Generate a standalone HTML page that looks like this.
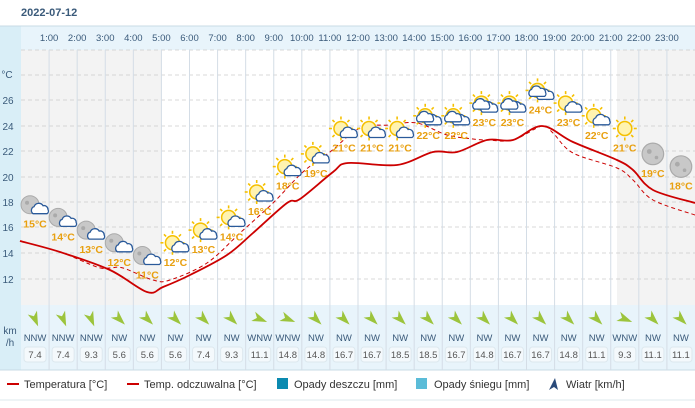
<!DOCTYPE html>
<html><head><meta charset="utf-8"><style>
body{margin:0;background:#fff;font-family:"Liberation Sans",sans-serif}
svg{display:block}
</style></head><body>
<svg width="695" height="408" xmlns="http://www.w3.org/2000/svg" font-family="Liberation Sans, sans-serif">
<defs>
<g id="moon"><circle r="9" fill="#c8c8c8" stroke="#aaa" stroke-width="1"/><circle cx="-3" cy="-2" r="2" fill="#aaa"/><circle cx="3" cy="3" r="1.5" fill="#aaa"/></g>
<g id="sun"><g stroke="#f5c000" stroke-width="1.6"><line x1="0" y1="-12" x2="0" y2="-9"/><line x1="0" y1="12" x2="0" y2="9"/><line x1="-12" y1="0" x2="-9" y2="0"/><line x1="12" y1="0" x2="9" y2="0"/><line x1="-8.5" y1="-8.5" x2="-6.4" y2="-6.4"/><line x1="8.5" y1="-8.5" x2="6.4" y2="-6.4"/><line x1="-8.5" y1="8.5" x2="-6.4" y2="6.4"/><line x1="8.5" y1="8.5" x2="6.4" y2="6.4"/></g><circle r="7" fill="#fff3b0" stroke="#f5c000" stroke-width="1.5"/></g>
<g id="cloud"><path d="M-7 4 a4 4 0 0 1 1-7 a5 5 0 0 1 9-1 a4 4 0 0 1 5 4 a3 3 0 0 1-1 4z" fill="#fff" stroke="#2a5a9a" stroke-width="1.3"/></g>
<polygon id="arr" points="0,-8 5,7 0,3 -5,7" fill="#9cc43c"/>
</defs>
<text x="21" y="16" font-size="11" font-weight="bold" fill="#3a5a7a">2022-07-12</text>
<rect x="0" y="26" width="21" height="344" fill="#d9eef7"/>
<rect x="21" y="26" width="674" height="24" fill="#e8f4fb"/>
<rect x="21" y="50" width="140" height="255" fill="#f3f3f3"/>
<rect x="617" y="50" width="78" height="255" fill="#f3f3f3"/>
<rect x="21" y="305" width="674" height="65" fill="#e8f4fb"/>
<line x1="0" y1="26" x2="695" y2="26" stroke="#c8dbe6"/>
<line x1="0" y1="370" x2="695" y2="370" stroke="#c8dbe6"/>
<line x1="0" y1="400" x2="695" y2="400" stroke="#dde8ee"/>
<g stroke="#ccc" stroke-dasharray="4,3" stroke-width="0.8">
<line x1="21" y1="50" x2="695" y2="50"/><line x1="21" y1="75" x2="695" y2="75"/><line x1="21" y1="100" x2="695" y2="100"/><line x1="21" y1="126" x2="695" y2="126"/><line x1="21" y1="151" x2="695" y2="151"/><line x1="21" y1="177" x2="695" y2="177"/><line x1="21" y1="202" x2="695" y2="202"/><line x1="21" y1="227" x2="695" y2="227"/><line x1="21" y1="253" x2="695" y2="253"/><line x1="21" y1="279" x2="695" y2="279"/>
</g>
<g font-size="10" fill="#3a5a7a" text-anchor="middle">
<text x="7" y="78">°C</text><text x="8" y="104">26</text><text x="8" y="130">24</text><text x="8" y="155">22</text><text x="8" y="181">20</text><text x="8" y="206">18</text><text x="8" y="231">16</text><text x="8" y="257">14</text><text x="8" y="283">12</text>
<text x="10" y="334">km</text><text x="10" y="346">/h</text>
</g>
<g id="dyn"></g>
<g font-size="11" fill="#333">
<line x1="7" y1="384" x2="19" y2="384" stroke="#c00" stroke-width="2"/><text x="24" y="388">Temperatura [°C]</text>
<line x1="127" y1="384" x2="139" y2="384" stroke="#c00" stroke-width="2"/><text x="144" y="388">Temp. odczuwalna [°C]</text>
<rect x="277" y="378" width="11" height="11" fill="#0b8ab0"/><text x="294" y="388">Opady deszczu [mm]</text>
<rect x="416" y="378" width="11" height="11" fill="#5bbcd8"/><text x="434" y="388">Opady śniegu [mm]</text>
<polygon points="555,378 558,390 554,387 549,390" fill="#2a4a7a"/><text x="566" y="388">Wiatr [km/h]</text>
</g>
</svg>
<script>
const ns="http://www.w3.org/2000/svg",W=28.083,X0=21;
const d=document.getElementById('dyn');
function el(t,a,txt){const e=document.createElementNS(ns,t);for(const k in a)e.setAttribute(k,a[k]);if(txt!=null)e.textContent=txt;d.appendChild(e);return e;}
const yT=t=>100+(26-t)*12.7;
const T=[15,14,13,12,11,12,13,14,16,18,19,21,21,21,22,22,23,23,24,23,22,21,19,18];
const sp=[7.4,7.4,9.3,5.6,5.6,5.6,7.4,9.3,11.1,14.8,14.8,16.7,16.7,18.5,18.5,16.7,14.8,16.7,16.7,14.8,11.1,9.3,11.1,11.1];
const dir=["NNW","NNW","NNW","NW","NW","NW","NW","NW","WNW","WNW","NW","NW","NW","NW","NW","NW","NW","NW","NW","NW","NW","WNW","NW","NW"];
const ang={NNW:157.5,NW:135,WNW:112.5};
for(let i=1;i<24;i++){const x=X0+i*W;el('line',{x1:x,y1:50,x2:x,y2:370,stroke:'#d4dde6'});el('text',{x:x,y:41,'font-size':9.5,fill:'#3a5a7a','text-anchor':'middle'},i+':00');}
for(let i=0;i<24;i++){const cx=X0+(i+.5)*W;
 el('use',{href:'#arr',transform:`translate(${cx},319) rotate(${ang[dir[i]]})`});
 el('text',{x:cx,y:341,'font-size':9.5,fill:'#3a5a7a','text-anchor':'middle'},dir[i]);
 el('rect',{x:cx-11,y:347,width:22,height:15,rx:3,fill:'#f4f9fc',stroke:'#dde8ee'});
 el('text',{x:cx,y:358,'font-size':9.5,fill:'#555','text-anchor':'middle'},sp[i].toFixed(1));}
function smooth(p){let s=`M${p[0][0]} ${p[0][1]}`;for(let i=0;i<p.length-1;i++){const a=p[i-1]||p[i],b=p[i],c=p[i+1],e=p[i+2]||c;
 s+=` C${b[0]+(c[0]-a[0])/6} ${b[1]+(c[1]-a[1])/6} ${c[0]-(e[0]-b[0])/6} ${c[1]-(e[1]-b[1])/6} ${c[0]} ${c[1]}`;}return s;}
const S=[[20,241],[60,252],[110,270],[147,292],[163,287],[190,275],[227,255],[253,233],[287,203],[300,199],[333,172],[348,163],[397,165],[433,152],[457,152],[487,140],[513,140],[542,126],[573,142],[617,160],[633,170],[653,190],[695,203]];
const D=[[20,241],[60,252],[97,267],[110,268],[123,268],[153,280],[170,280],[207,263],[240,233],[273,203],[303,172],[330,152],[360,128],[390,125],[417,123],[447,135],[473,139],[487,140],[513,140],[542,126],[553,133],[573,153],[617,168],[633,180],[653,200],[695,215]];
el('path',{d:smooth(D),fill:'none',stroke:'#c00','stroke-width':1,'stroke-dasharray':'4,3'});
el('path',{d:smooth(S),fill:'none',stroke:'#c00','stroke-width':1.8,'stroke-linejoin':'round'});
for(let i=0;i<24;i++){const cx=X0+(i+.5)*W,y=yT(T[i]);
 const ic=y-35;
 if(i<5){el('use',{href:'#moon',transform:`translate(${cx-5},${ic})`});el('use',{href:'#cloud',transform:`translate(${cx+5},${ic+5})`});}
 else if(i<21){el('use',{href:'#sun',transform:`translate(${cx-3},${ic})`});el('use',{href:'#cloud',transform:`translate(${cx+5},${ic+5})`});if(i>=14&&i<=18)el('use',{href:'#cloud',transform:`translate(${cx-3},${ic+2})`});}
 else if(i==21){el('use',{href:'#sun',transform:`translate(${cx},${ic})`});}
 else{el('use',{href:'#moon',transform:`translate(${cx},${ic}) scale(1.2)`});}
 el('text',{x:cx,y:y-12,'font-size':10.5,'font-weight':'bold',fill:'#e8a010','text-anchor':'middle'},T[i]+'°C');}
</script>
</body></html>
